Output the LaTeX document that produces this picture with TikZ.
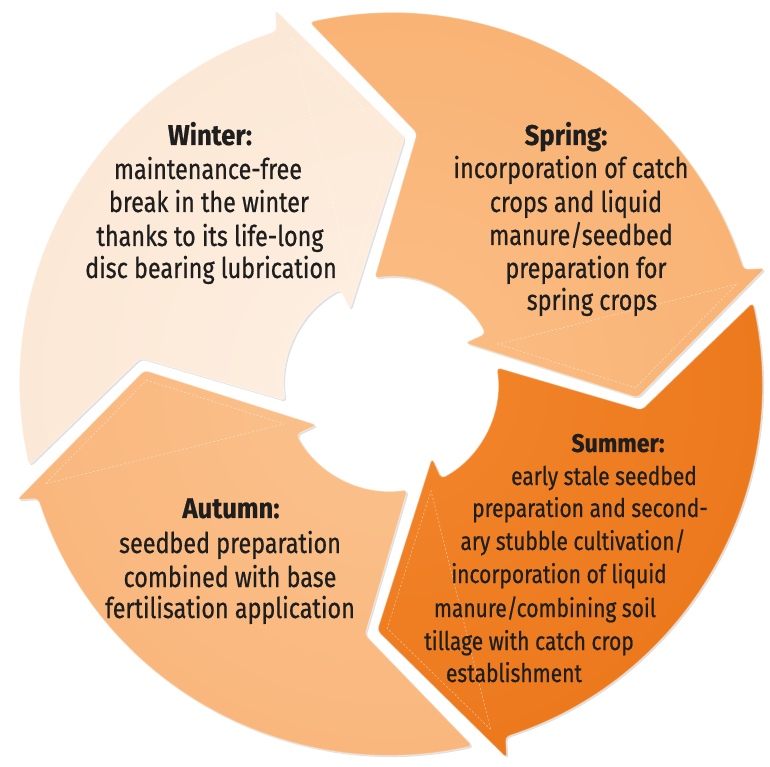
\documentclass[tikz,border=0pt]{standalone}
\usepackage{fontspec}
\setmainfont{Fira Sans}[FakeStretch=0.82, FakeBold=0.6, BoldFeatures={FakeStretch=0.9}]
\usetikzlibrary{shadows}

\definecolor{winterin}{RGB}{254,240,227}
\definecolor{winterout}{RGB}{250,224,200}
\definecolor{springin}{RGB}{251,190,134}
\definecolor{springout}{RGB}{246,168,100}
\definecolor{summerin}{RGB}{243,134,44}
\definecolor{summerout}{RGB}{230,108,14}
\definecolor{autumnin}{RGB}{251,194,142}
\definecolor{autumnout}{RGB}{247,172,108}
\definecolor{textcol}{RGB}{30,30,30}

\begin{document}
\begin{tikzpicture}[x=1pt,y=1pt,
	segment/.style={insert path={(192.7:371) arc[start angle=192.7, end angle=108, radius=371] -- (107.2:391.6) -- (86.8:247) -- (119:84.6) -- (118.1:107) arc[start angle=118.1, end angle=188.9, radius=107] -- (174.1:252) -- cycle}},
	innertri/.style={insert path={(-99.6,345.4) -- (3.8,244.4) -- (-40,106.9) -- cycle}},
	ring/.style={rounded corners=4pt, draw=white, draw opacity=0.35, line width=1.2pt,
		drop shadow={opacity=0.25, shadow xshift=1.5pt, shadow yshift=-1.5pt}},
	seam/.style={draw=white, draw opacity=0.5, line width=0.6pt, dash pattern=on 2pt off 2pt},
	lbl/.style={anchor=base, inner sep=0pt, text=textcol, font=\fontsize{28.5}{33}\selectfont},
	ttl/.style={lbl, font=\fontsize{28.5}{33}\selectfont\bfseries},
	slbl/.style={lbl, font=\fontsize{25.6}{33}\selectfont},
	sttl/.style={lbl, font=\fontsize{25.6}{33}\selectfont\bfseries}]

	\useasboundingbox (-391,-383) rectangle (379,384);

	% four arrows, turned a quarter each
	\path[ring, segment, path picture={\shade[inner color=winterin, outer color=winterout] (0,0) circle (742);}];
	\path[ring, rotate=-90, segment, path picture={\shade[inner color=springin, outer color=springout] (0,0) circle (742);}];
	\path[ring, rotate=-180, segment, path picture={\shade[inner color=summerin, outer color=summerout] (0,0) circle (742);}];
	\path[ring, rotate=-270, segment, path picture={\shade[inner color=autumnin, outer color=autumnout] (0,0) circle (742);}];

	\draw[seam, innertri];
	\draw[seam, rotate=-90, innertri];
	\draw[seam, rotate=-180, innertri];
	\draw[seam, rotate=-270, innertri];

	% winter
	\node[ttl] (winter-title) at (-181,239) {Winter:};
	\node[lbl] (winter-1) at (-183,205) {maintenance-free};
	\node[lbl] (winter-2) at (-182,172) {break in the winter};
	\node[lbl] (winter-3) at (-181,138) {thanks to its life-long};
	\node[lbl] (winter-4) at (-180,106) {disc bearing lubrication};

	% spring
	\node[ttl] (spring-title) at (175,239) {Spring:};
	\node[lbl] (spring-1) at (180,206) {incorporation of catch};
	\node[lbl] (spring-2) at (185,172) {crops and liquid};
	\node[lbl] (spring-3) at (190,139) {manure/seedbed};
	\node[lbl] (spring-4) at (195,106) {preparation for};
	\node[lbl] (spring-5) at (201,74) {spring crops};

	% summer
	\node[sttl] (summer-title) at (227,-68) {Summer:};
	\node[slbl] (summer-1) at (213,-101) {early stale seedbed};
	\node[slbl] (summer-2) at (199,-133) {preparation and second-};
	\node[slbl] (summer-3) at (182,-166) {ary stubble cultivation/};
	\node[slbl] (summer-4) at (168,-199) {incorporation of liquid};
	\node[slbl] (summer-5) at (154,-233) {manure/combining soil};
	\node[slbl] (summer-6) at (138,-266) {tillage with catch crop};
	\node[slbl] (summer-7) at (123,-298) {establishment};

	% autumn
	\node[ttl] (autumn-title) at (-160,-134) {Autumn:};
	\node[lbl] (autumn-1) at (-161,-169) {seedbed preparation};
	\node[lbl] (autumn-2) at (-161,-203) {combined with base};
	\node[lbl] (autumn-3) at (-161,-234) {fertilisation application};

\end{tikzpicture}
\end{document}
